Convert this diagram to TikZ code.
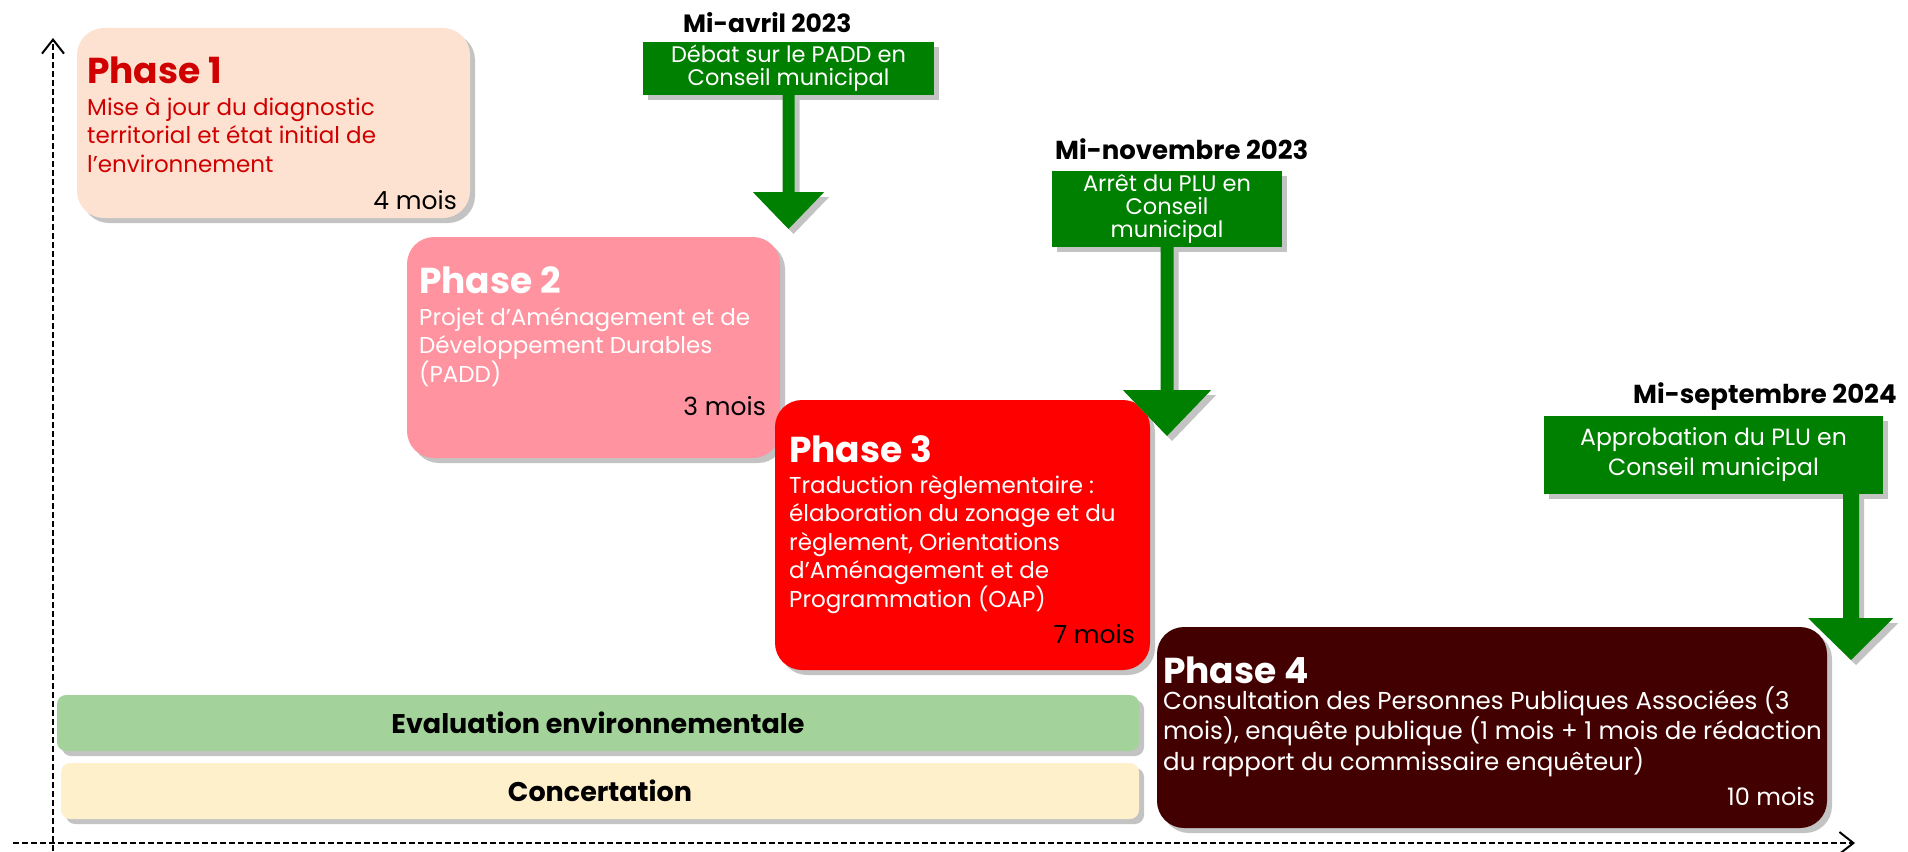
\documentclass[tikz,border=0pt]{standalone}
\usepackage{fontspec}
\setmainfont{Poppins}
\usetikzlibrary{calc,arrows.meta,shadows}
\definecolor{shadowgray}{RGB}{195,195,195}
\definecolor{peach}{RGB}{253,226,210}
\definecolor{darkred}{RGB}{208,0,0}
\definecolor{pinkph}{RGB}{255,147,160}
\definecolor{redph}{RGB}{255,0,0}
\definecolor{maroon}{RGB}{67,0,0}
\definecolor{dgreen}{RGB}{0,128,0}
\definecolor{evalgreen}{RGB}{163,211,154}
\definecolor{concert}{RGB}{255,240,204}
\tikzset{
  shad/.style={drop shadow={shadow xshift=5pt,shadow yshift=-5pt,fill=shadowgray,opacity=1}},
  phasebox/.style={rectangle,rounded corners=27pt,inner sep=0pt,shad},
  barbox/.style={rectangle,rounded corners=9pt,inner sep=0pt,shad,font=\bfseries\fontsize{27}{30}\selectfont},
  greenbox/.style={rectangle,fill=dgreen,inner sep=0pt,shad,text=white,align=center},
  titletxt/.style={anchor=base west,inner sep=0pt,font=\bfseries\fontsize{36}{40}\selectfont},
  bodytxt/.style={anchor=base west,inner sep=0pt,align=left,font=\fontsize{23}{28.5}\selectfont},
  durtxt/.style={anchor=base east,inner sep=0pt,font=\fontsize{25}{28}\selectfont},
  datetxt/.style={anchor=base west,inner sep=0pt,font=\bfseries\fontsize{25}{28}\selectfont},
  axisline/.style={line width=2pt,dash pattern=on 6pt off 3pt,-{Straight Barb[length=14pt,width=22pt,line width=2pt]}},
  garrow/.style={fill=dgreen,shad}
}
\newcommand\greenarrow[5]{%
  \fill[garrow] ($(#1.south)+(-#2,0)$) -- ($(#1.south)+(-#2,#3)$) -- ($(#1.south)+(-#4,#3)$)
    -- (#5) -- ($(#1.south)+(#4,#3)$) -- ($(#1.south)+(#2,#3)$) -- ($(#1.south)+(#2,0)$) -- cycle;}
\begin{document}
\begin{tikzpicture}[x=1pt,y=-1pt]
\useasboundingbox (0,0) rectangle (1908,851);

% axes
\coordinate (yS) at (53,851);
\coordinate (yN) at (53,38);
\coordinate (xW) at (13,843);
\coordinate (xE) at (1855,843);
\draw[axisline] (yS) -- (yN);
\draw[axisline] (xW) -- (xE);

% bars
\node[barbox,fill=evalgreen,minimum width=1082pt,minimum height=56pt] (eval) at (598,723) {Evaluation environnementale};
\node[barbox,fill=concert,minimum width=1078pt,minimum height=56pt] (conc) at (600,791) {Concertation};

% phase boxes
\node[phasebox,fill=peach,minimum width=393pt,minimum height=190pt] (p1) at (273.5,123) {};
\node[phasebox,fill=pinkph,minimum width=373pt,minimum height=221pt] (p2) at (593.5,347.5) {};
\node[phasebox,fill=redph,minimum width=375pt,minimum height=270pt] (p3) at (962.5,535) {};
\node[phasebox,fill=maroon,minimum width=670pt,minimum height=201pt] (p4) at (1492,727.5) {};

% phase 1 text (multi-line nodes anchored at the last line's baseline)
\node[titletxt,text=darkred] (p1t) at (87,83) {Phase 1};
\node[bodytxt,text=darkred] (p1b) at (87,172) {Mise à jour du diagnostic\\territorial et état initial de\\l’environnement};
\node[durtxt] (p1d) at (457,209) {4 mois};

% phase 2 text
\node[titletxt,text=white] (p2t) at (419,293) {Phase 2};
\node[bodytxt,text=white] (p2b) at (419,382) {Projet d’Aménagement et de\\Développement Durables\\(PADD)};
\node[durtxt] (p2d) at (766,415) {3 mois};

% phase 3 text
\node[titletxt,text=white] (p3t) at (789,462) {Phase 3};
\node[bodytxt,text=white] (p3b) at (789,607) {Traduction règlementaire :\\élaboration du zonage et du\\règlement, Orientations\\d’Aménagement et de\\Programmation (OAP)};
\node[durtxt] (p3d) at (1135,643) {7 mois};

% phase 4 text
\node[titletxt,text=white] (p4t) at (1163,683) {Phase 4};
\node[bodytxt,text=white,font=\fontsize{24.5}{28.5}\selectfont] (p4b) at (1163,770) {Consultation des Personnes Publiques Associées (3\\mois), enquête publique (1 mois + 1 mois de rédaction\\du rapport du commissaire enquêteur)};
\node[durtxt,text=white,font=\fontsize{24}{28}\selectfont] (p4d) at (1815,805) {10 mois};

% milestones
\node[datetxt] (d1) at (683,33) {Mi-avril 2023};
\node[greenbox,minimum width=291pt,minimum height=53pt,font=\fontsize{22.5}{23}\selectfont] (m1) at (788.5,68.5) {Débat sur le PADD en\\Conseil municipal};
\coordinate (m1tip) at (788.5,229);
\greenarrow{m1}{6}{97}{35.5}{m1tip}

\node[datetxt,font=\bfseries\fontsize{26}{28}\selectfont] (d2) at (1055,159) {Mi-novembre 2023};
\node[greenbox,minimum width=230pt,minimum height=76pt,font=\fontsize{22.5}{23}\selectfont] (m2) at (1167,209) {Arrêt du PLU en\\Conseil\\municipal};
\coordinate (m2tip) at (1167,436);
\greenarrow{m2}{6.5}{143}{44}{m2tip}

\node[datetxt,font=\bfseries\fontsize{26}{28}\selectfont] (d3) at (1633,403) {Mi-septembre 2024};
\node[greenbox,minimum width=339pt,minimum height=78pt,font=\fontsize{23.5}{30}\selectfont] (m3) at (1713.5,455) {Approbation du PLU en\\Conseil municipal};
\coordinate (m3tip) at (1851,660);
\fill[garrow] ($(m3.south east)+(-40,0)$) -- ($(m3.south east)+(-40,124)$) -- ($(m3.south east)+(-75,124)$)
  -- (m3tip) -- ($(m3.south east)+(10,124)$) -- ($(m3.south east)+(-24,124)$) -- ($(m3.south east)+(-24,0)$) -- cycle;
\end{tikzpicture}
\end{document}
